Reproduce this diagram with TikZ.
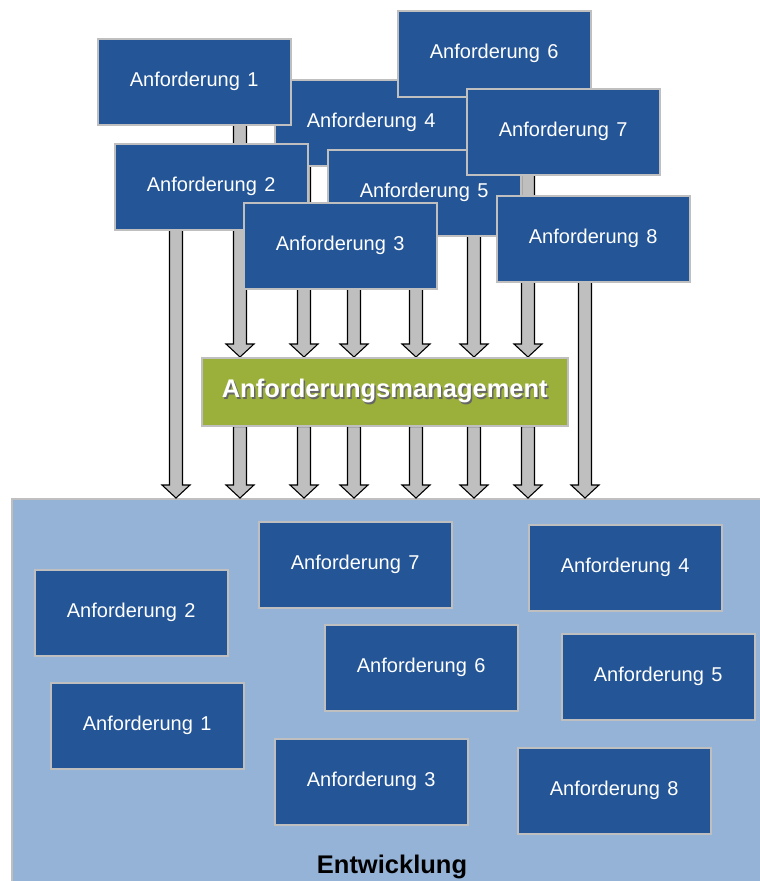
\documentclass[tikz,border=0pt]{standalone}
\usepackage{fontspec}
\setmainfont{Liberation Sans}
\usetikzlibrary{calc}
\definecolor{boxblue}{HTML}{245596}
\definecolor{boxedge}{HTML}{BFBFBF}
\definecolor{mgmtgreen}{HTML}{9BB03B}
\definecolor{entwblue}{HTML}{95B3D7}
\definecolor{arrgray}{HTML}{BFBFBF}
\pgfdeclarelayer{back}
\pgfdeclarelayer{mid}
\pgfsetlayers{back,mid,main}
\tikzset{
  req/.style={draw=boxedge, line width=1.5pt, fill=boxblue, text=white,
    minimum width=193pt, minimum height=86pt, anchor=north west, inner sep=0pt,
    font=\fontsize{20}{23}\selectfont},
  arrowfill/.style={fill=arrgray, draw=black, line width=1.1pt, line join=miter},
}
\newcommand\blockarr[2]{%
  \draw[arrowfill] let \p1=(#1), \p2=(#2) in
    (\x1-6.5pt,\y1) -- (\x1-6.5pt,\y2+13pt) -- (\x1-14pt,\y2+13pt) -- (\x1,\y2)
    -- (\x1+14pt,\y2+13pt) -- (\x1+6.5pt,\y2+13pt) -- (\x1+6.5pt,\y1) -- cycle;}
\newcommand\req[1]{Anforderung\hspace{0.1em} #1}
\newcommand\shadowtext[1]{\makebox[0pt][l]{\hspace{1.5pt}\raisebox{-1.8pt}{\textcolor{black!60}{#1}}}\textcolor{white}{#1}}
\begin{document}
\begin{tikzpicture}[x=1pt,y=-1pt]
\useasboundingbox (0,0) rectangle (760,881);
% Entwicklung area
\begin{pgfonlayer}{back}
\node[draw=boxedge, line width=1.5pt, fill=entwblue, anchor=north west, inner sep=0pt,
  minimum width=800pt, minimum height=420pt] (entw) at (11,498) {};
\end{pgfonlayer}
\node[font=\fontsize{25.5}{28}\selectfont\bfseries, anchor=base] (entwlabel) at (392,873) {Entwicklung};
% management
\node[draw=boxedge, line width=1.5pt, fill=mgmtgreen, anchor=north west, inner sep=0pt,
  minimum width=366pt, minimum height=68pt, font=\fontsize{25.5}{28}\selectfont\bfseries]
  (mgmt) at (201,357) {\shadowtext{Anforderungsmanagement}};
% top requirement boxes (stacking order)
\node[req] (t4) at (274,79) {\req{4}};
\node[req] (t6) at (397,10) {\req{6}};
\node[req] (t5) at (327,149) {\req{5}};
\node[req] (t7) at (466,88) {\req{7}};
\node[req] (t1) at (97,38) {\req{1}};
\node[req] (t2) at (114,143) {\req{2}};
\node[req] (t3) at (243,202) {\req{3}};
\node[req] (t8) at (496,195) {\req{8}};
% bottom requirement boxes
\node[req] (b2) at (34,569) {\req{2}};
\node[req] (b1) at (50,682) {\req{1}};
\node[req] (b7) at (258,521) {\req{7}};
\node[req] (b6) at (324,624) {\req{6}};
\node[req] (b3) at (274,738) {\req{3}};
\node[req] (b4) at (528,524) {\req{4}};
\node[req] (b5) at (561,633) {\req{5}};
\node[req] (b8) at (517,747) {\req{8}};
% arrow columns
\coordinate (c1) at (176,0);
\coordinate (c2) at (240,0);
\coordinate (c3) at (304,0);
\coordinate (c4) at (354,0);
\coordinate (c5) at (416,0);
\coordinate (c6) at (474,0);
\coordinate (c7) at (528,0);
\coordinate (c8) at (585,0);
\begin{pgfonlayer}{mid}
% requirements to management
\blockarr{c2 |- t1.center}{c2 |- mgmt.north}
\blockarr{c3 |- t4.center}{c3 |- mgmt.north}
\blockarr{c4 |- t4.center}{c4 |- mgmt.north}
\blockarr{c5 |- t3.center}{c5 |- mgmt.north}
\blockarr{c6 |- t5.center}{c6 |- mgmt.north}
\blockarr{c7 |- t7.center}{c7 |- mgmt.north}
% management to development
\blockarr{c2 |- mgmt.south}{c2 |- entw.north}
\blockarr{c3 |- mgmt.south}{c3 |- entw.north}
\blockarr{c4 |- mgmt.south}{c4 |- entw.north}
\blockarr{c5 |- mgmt.south}{c5 |- entw.north}
\blockarr{c6 |- mgmt.south}{c6 |- entw.north}
\blockarr{c7 |- mgmt.south}{c7 |- entw.north}
% bypassing management
\blockarr{c1 |- t2.center}{c1 |- entw.north}
\blockarr{c8 |- t8.center}{c8 |- entw.north}
\end{pgfonlayer}
\end{tikzpicture}
\end{document}
